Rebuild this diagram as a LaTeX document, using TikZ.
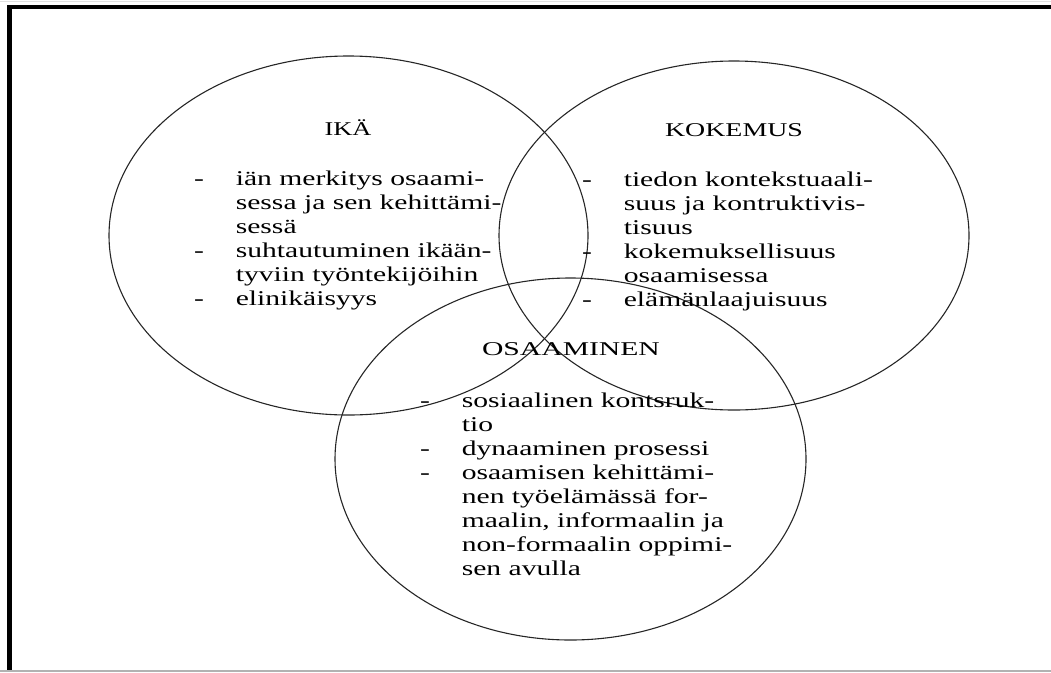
\documentclass[tikz,border=0pt]{standalone}
\usepackage{fontspec}
\setmainfont{Liberation Serif}
\usetikzlibrary{shapes.geometric}
\newcommand{\dashitem}{\makebox[29.5pt][l]{-}}
\newcommand{\hs}[1]{\scalebox{1.41}[1]{#1}}
\begin{document}
\begin{tikzpicture}[x=1pt,y=-1pt,
  venn/.style={draw=black!85, line width=1.1pt, ellipse, inner sep=0pt},
  frameline/.style={line width=4.2pt, black},
  title/.style={font=\fontsize{19.5}{24}\selectfont, inner sep=0pt, anchor=center},
  listtext/.style={font=\fontsize{21}{24}\selectfont, inner sep=0pt, anchor=base west}]
\useasboundingbox (0,0) rectangle (1051,672);
% frame
\coordinate (tl) at (9.5,7);
\coordinate (tr) at (1051,7);
\coordinate (bl) at (9.5,670.5);
\draw[frameline] (bl) -- (tl) -- (tr);
\draw[line width=1.5pt, black!30] (0,670.8) -- (1051,670.8);
\draw[line width=1pt, black!12] (0,1) -- (1051,1);
% circles
\node[venn, minimum width=479pt, minimum height=359pt] (ika) at (348.5,235.5) {};
\node[venn, minimum width=470pt, minimum height=349pt] (kok) at (734,235.5) {};
\node[venn, minimum width=471pt, minimum height=362pt] (osa) at (570.5,459) {};
% titles
\node[title] (ikaT) at (348,128) {\scalebox{1.35}[1]{IKÄ}};
\node[title] (kokT) at (734,130) {\scalebox{1.43}[1]{KOKEMUS}};
\node[title] (osaT) at (571,349) {\scalebox{1.52}[1]{OSAAMINEN}};
% lists
\node[listtext] (ikaL) at (194,185) {\hs{\begin{tabular}[t]{@{}l@{}l@{}}
\dashitem & iän merkitys osaami-\\
 & sessa ja sen kehittämi-\\
 & sessä\\
\dashitem & suhtautuminen ikään-\\
 & tyviin työntekijöihin\\
\dashitem & elinikäisyys
\end{tabular}}};
\node[listtext] (kokL) at (582,186) {\hs{\begin{tabular}[t]{@{}l@{}l@{}}
\dashitem & tiedon kontekstuaali-\\
 & suus ja kontruktivis-\\
 & tisuus\\
\dashitem & kokemuksellisuus\\
 & osaamisessa\\
\dashitem & elämänlaajuisuus
\end{tabular}}};
\node[listtext] (osaL) at (420,407) {\hs{\begin{tabular}[t]{@{}l@{}l@{}}
\dashitem & sosiaalinen kontsruk-\\
 & tio\\
\dashitem & dynaaminen prosessi\\
\dashitem & osaamisen kehittämi-\\
 & nen työelämässä for-\\
 & maalin, informaalin ja\\
 & non-formaalin oppimi-\\
 & sen avulla
\end{tabular}}};
\end{tikzpicture}
\end{document}
